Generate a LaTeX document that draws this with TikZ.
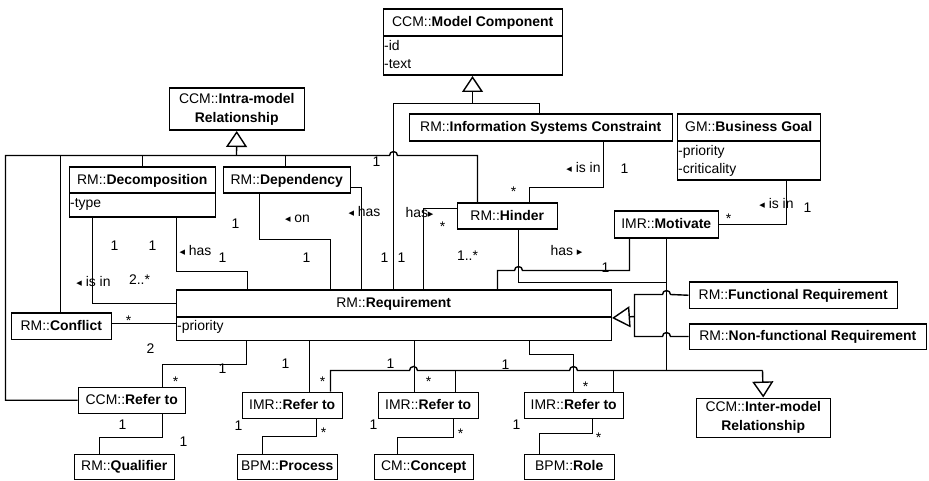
\documentclass[tikz,border=0pt]{standalone}
\usepackage{fontspec}
\setmainfont{Liberation Sans}
\newfontfamily\dvfont{DejaVu Sans}
\usetikzlibrary{arrows.meta}
\newcommand{\clsname}[2]{#1::\textbf{#2}}
\newcommand{\lft}{{\dvfont\fontsize{11}{11}\selectfont ◂}}
\newcommand{\rgt}{{\dvfont\fontsize{11}{11}\selectfont ▸}}
\begin{document}
\begin{tikzpicture}[x=1bp,y=-1bp,line width=1.4bp,
  font=\fontsize{14}{17}\selectfont,
  box/.style={draw, line width=1.5bp, inner sep=0pt, anchor=north west, fill=white},
  hdr/.style={box, text height=10pt, text depth=1.5pt},
  hdr2/.style={box, align=center, font=\fontsize{14}{19}\selectfont},
  attr/.style={anchor=north west, align=left, inner sep=0pt, font=\fontsize{14}{18}\selectfont},
  lbl/.style={inner sep=0pt, font=\fontsize{14}{14}\selectfont},
  gen/.style={-{Triangle[open,length=16bp,width=21bp]}},
  genr/.style={-{Triangle[open,length=18bp,width=21bp]}}]
\fill[white] (-0.5,-0.5) rectangle (928.5,480.5);
\useasboundingbox (-0.5,-0.5) rectangle (928.5,480.5);

% classes
\node[hdr, minimum width=179bp, minimum height=27bp] (mc) at (382,8) {\clsname{CCM}{Model Component}};
\node[box, minimum width=179bp, minimum height=39bp] (mcA) at (382,35) {};
\node[attr] (mcT) at (383,39) {-id\\-text};

\node[hdr2, minimum width=135bp, minimum height=42bp] (intra) at (168,87) {CCM::\textbf{Intra-model}\\\textbf{Relationship}};

\node[hdr, minimum width=263bp, minimum height=27bp] (isc) at (408,113) {\clsname{RM}{Information Systems Constraint}};

\node[hdr, minimum width=143bp, minimum height=27bp] (bg) at (676,113) {\clsname{GM}{Business Goal}};
\node[box, minimum width=143bp, minimum height=39bp] (bgA) at (676,140) {};
\node[attr] (bgT) at (677,144) {-priority\\-criticality};

\node[hdr, minimum width=146bp, minimum height=26bp] (dec) at (68,166) {\clsname{RM}{Decomposition}};
\node[box, minimum width=146bp, minimum height=24bp] (decA) at (68,192) {};
\node[attr] (decT) at (69,197) {-type};

\node[hdr, minimum width=127bp, minimum height=26bp] (dep) at (222,166) {\clsname{RM}{Dependency}};
\node[hdr, minimum width=100bp, minimum height=26bp] (hin) at (456,202) {\clsname{RM}{Hinder}};
\node[hdr, minimum width=104bp, minimum height=27bp] (mot) at (613,210) {\clsname{IMR}{Motivate}};

\node[hdr, minimum width=435bp, minimum height=27bp] (req) at (175,289) {\clsname{RM}{Requirement}};
\node[box, minimum width=435bp, minimum height=23bp] (reqA) at (175,316) {};
\node[attr] (reqT) at (176,319) {-priority};

\node[hdr, minimum width=208bp, minimum height=26bp] (func) at (688,281) {\clsname{RM}{Functional Requirement}};
\node[hdr, minimum width=237bp, minimum height=25bp] (nonf) at (688,323) {\clsname{RM}{Non-functional Requirement}};

\node[hdr, minimum width=100bp, minimum height=26bp] (conf) at (10,312) {\clsname{RM}{Conflict}};
\node[hdr, minimum width=107bp, minimum height=26bp] (ccmref) at (77,386) {\clsname{CCM}{Refer to}};
\node[hdr, minimum width=100bp, minimum height=26bp] (imra) at (241,391) {\clsname{IMR}{Refer to}};
\node[hdr, minimum width=100bp, minimum height=26bp] (imrb) at (377,391) {\clsname{IMR}{Refer to}};
\node[hdr, minimum width=99bp, minimum height=26bp] (imrc) at (523,391) {\clsname{IMR}{Refer to}};
\node[hdr2, minimum width=134bp, minimum height=39bp] (inter) at (695,397) {CCM::\textbf{Inter-model}\\\textbf{Relationship}};

\node[hdr, minimum width=100bp, minimum height=25bp] (qual) at (73,453) {\clsname{RM}{Qualifier}};
\node[hdr, minimum width=100bp, minimum height=25bp] (proc) at (236,453) {\clsname{BPM}{Process}};
\node[hdr, minimum width=99bp, minimum height=25bp] (conc) at (373,453) {\clsname{CM}{Concept}};
\node[hdr, minimum width=90bp, minimum height=25bp] (role) at (523,453) {\clsname{BPM}{Role}};

% generalization to Model Component
\coordinate (mcj) at (472,103);
\draw[gen] (mcj) -- (mcA.south -| mcj);
\draw (req.north -| 393,0) -- (393,103) -| (isc.north -| 539,0);

% generalization to Intra-model Relationship
\coordinate (inj) at (236,155);
\draw[gen] (inj) -- (intra.south);
\draw (ccmref.west) -| (5,155) -- (389,155) arc[start angle=180,end angle=0,radius=4bp] -- (477,155) -- (hin.north -| 477,0);
\draw (conf.north -| 60,0) -- (60,155);
\draw (dec.north -| 142,0) -- (142,155);
\draw (dep.north -| 285,0) -- (285,155);

% associations at top
\draw (decA.south -| 92,0) |- (req.west);
\draw (decA.south -| 176,0) -- (176,271) -| (req.north -| 247,0);
\draw (dep.south -| 259,0) -- (259,239) -| (req.north -| 330,0);
\draw (dep.east |- 0,187) -| (req.north -| 361,0);
\draw (hin.west |- 0,208) -| (req.north -| 423,0);
\draw (isc.south -| 603,0) -- (603,187) -| (hin.north -| 529,0);
\draw (hin.south -| 518,0) -- (518,282) -- (666,282);
\draw (mot.south -| 629,0) -- (629,270) -- (522,270) arc[start angle=0,end angle=180,radius=4bp] -- (497,270) -- (req.north -| 497,0);
\draw (mot.east) -| (bgA.south -| 786,0);

% generalization to Requirement
\draw[genr] (634,316) -- (req.south east);
\draw (func.west) -- (670,294) arc[start angle=0,end angle=180,radius=4bp] -- (634,294) -- (634,336) -- (662,336) arc[start angle=180,end angle=0,radius=4bp] -- (nonf.west |- 0,336);

% generalization to Inter-model Relationship
\coordinate (imj) at (762,370);
\draw[gen] (imj) -- (inter.north);
\draw (mot.south -| 666,0) -- (666,370);
\draw (imra.north -| 330,0) -- (330,370) -- (409,370) arc[start angle=180,end angle=0,radius=4bp] -- (569,370) arc[start angle=180,end angle=0,radius=4bp] -- (imj);
\draw (imrb.north -| 455,0) -- (455,370);
\draw (imrc.north -| 613,0) -- (613,370);

% conflict
\draw (conf.east |- 0,323) -- (req.west |- 0,323);

% requirement bottom
\draw (reqA.south -| 246,0) -- (246,364) -| (ccmref.north -| 162,0);
\draw (reqA.south -| 309,0) -- (imra.north -| 309,0);
\draw (reqA.south -| 414,0) -- (imrb.north -| 414,0);
\draw (reqA.south -| 529,0) -- (529,354) -| (imrc.north -| 573,0);

% bottom row
\draw (ccmref.south -| 162,0) -- (162,437) -| (qual.north -| 99,0);
\draw (imra.south -| 316,0) -- (316,436) -| (proc.north -| 262,0);
\draw (imrb.south -| 453,0) -- (453,437) -| (conc.north -| 397,0);
\draw (imrc.south -| 592,0) -- (592,433) -| (role.north -| 539,0);

% labels
\node[lbl] (l1) at (376,161) {1};
\node[lbl] (l2) at (114,245) {1};
\node[lbl] (l3) at (152,245) {1};
\node[lbl] (l4) at (195,250) {\lft\ has};
\node[lbl] (l5) at (222,257) {1};
\node[lbl] (l6) at (93,281) {\lft\ is in};
\node[lbl] (l7) at (139,279) {2..*};
\node[lbl] (l8) at (235,223) {1};
\node[lbl] (l9) at (297,218) {\lft\ on};
\node[lbl] (l10) at (306,257) {1};
\node[lbl] (l11) at (364,211) {\lft\ has};
\node[lbl] (l12) at (384,257) {1};
\node[lbl] (l13) at (401,257) {1};
\node[lbl] (l14) at (419,212) {has\rgt};
\node[lbl] (l15) at (442,226) {*};
\node[lbl] (l16) at (467,255) {1..*};
\node[lbl] (l17) at (583,167) {\lft\ is in};
\node[lbl] (l18) at (624,168) {1};
\node[lbl] (l19) at (513,191) {*};
\node[lbl] (l20) at (566,250) {has \rgt};
\node[lbl] (l21) at (605,267) {1};
\node[lbl] (l22) at (776,203) {\lft\ is in};
\node[lbl] (l23) at (807,207) {1};
\node[lbl] (l24) at (728,218) {*};
\node[lbl] (l25) at (128,320) {*};
\node[lbl] (l26) at (150,348) {2};
\node[lbl] (l27) at (222,368) {1};
\node[lbl] (l28) at (175,381) {*};
\node[lbl] (l29) at (285,363) {1};
\node[lbl] (l30) at (390,363) {1};
\node[lbl] (l31) at (505,364) {1};
\node[lbl] (l32) at (322,381) {*};
\node[lbl] (l33) at (428,381) {*};
\node[lbl] (l34) at (585,386) {*};
\node[lbl] (l35) at (122,424) {1};
\node[lbl] (l36) at (183,441) {1};
\node[lbl] (l37) at (238,425) {1};
\node[lbl] (l38) at (323,432) {*};
\node[lbl] (l39) at (373,424) {1};
\node[lbl] (l40) at (460,433) {*};
\node[lbl] (l41) at (516,424) {1};
\node[lbl] (l42) at (598,437) {*};
\end{tikzpicture}
\end{document}
